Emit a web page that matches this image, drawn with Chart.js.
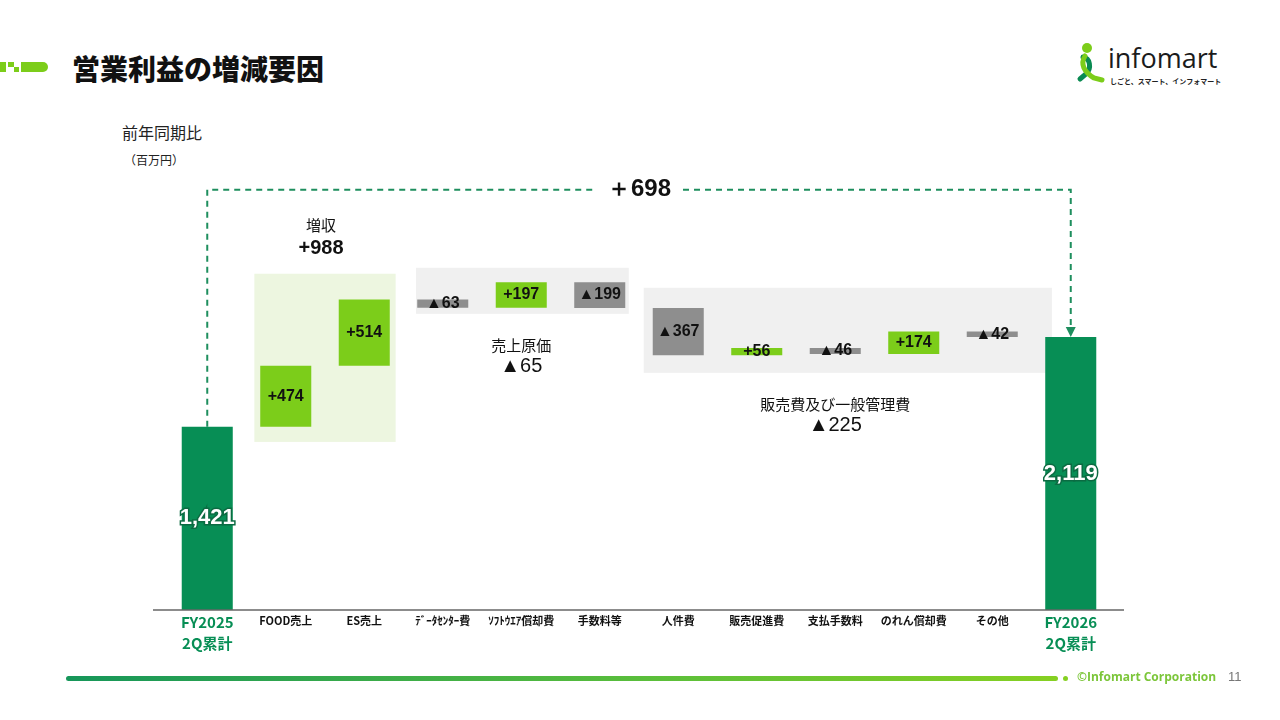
<!DOCTYPE html>
<html lang="ja">
<head>
    <meta charset="UTF-8">
    <title>営業利益の増減要因</title>
    <script src="https://cdn.jsdelivr.net/npm/chart.js"></script>
    <style>
        * { margin: 0; padding: 0; box-sizing: border-box; }
        body {
            width: 1280px;
            height: 720px;
            background: white;
            position: relative;
            overflow: hidden;
            font-family: "Noto Sans CJK JP", "Noto Sans", sans-serif;
        }
        #chart { position: absolute; left: 0; top: 0; }

        /* header */
        .deco span { position: absolute; background: #7ccd1a; }
        .title {
            position: absolute; left: 72px; top: 48px;
            font-size: 28px; font-weight: 900; color: #111;
        }
        .sub1 { position: absolute; left: 122px; top: 120px; font-size: 16px; color: #222; }
        .sub2 { position: absolute; left: 124px; top: 151px; font-size: 12px; color: #222; }

        /* logo */
        .logo { position: absolute; left: 1074px; top: 42px; }
        .logo .word {
            position: absolute; left: 34px; top: -3px;
            font-family: "Open Sans", "Noto Sans", sans-serif;
            font-size: 27px; color: #1b1b1b;
        }
        .logo .tag {
            position: absolute; left: 36px; top: 34px; white-space: nowrap;
            font-size: 7px; font-weight: bold; color: #222;
        }

        /* footer */
        .foot-line {
            position: absolute; left: 66px; top: 676px; width: 992px; height: 5px;
            border-radius: 3px;
            background: linear-gradient(to right, #16965a, #5cbf3a 60%, #86d022);
        }
        .foot-dot { position: absolute; left: 1063px; top: 676px; width: 5px; height: 5px; border-radius: 50%; background: #86d022; }
        .copy {
            position: absolute; left: 1077px; top: 668px;
            font-family: "Open Sans", sans-serif; font-weight: bold;
            font-size: 12px; color: #7cc63a;
        }
        .page { position: absolute; left: 1228px; top: 669px; font-size: 13px; color: #777; font-family: "Liberation Sans", sans-serif; }
    </style>
</head>
<body>

    <div class="deco">
        <span style="left:0;top:62px;width:6px;height:10px;"></span>
        <span style="left:8px;top:62px;width:6px;height:5px;"></span>
        <span style="left:14px;top:67px;width:5px;height:5px;"></span>
        <span style="left:21px;top:62px;width:27px;height:10px;border-radius:0 5px 5px 0;"></span>
    </div>
    <div class="title">営業利益の増減要因</div>
    <div class="sub1">前年同期比</div>
    <div class="sub2">（百万円）</div>

    <div class="logo">
        <svg width="32" height="42" viewBox="0 0 32 42">
            <circle cx="13" cy="6" r="5" fill="#7ccd1a"/>
            <path d="M9 15 C 16 16, 18 26, 12 32 L 6 37" stroke="#0a8a52" stroke-width="5" fill="none" stroke-linecap="round"/>
            <path d="M11 14 C 6 22, 10 30, 20 36 L 28 38" stroke="#7ccd1a" stroke-width="5" fill="none" stroke-linecap="round"/>
        </svg>
        <div class="word">infomart</div>
        <div class="tag">しごと、スマート、インフォマート</div>
    </div>

    <canvas id="chart" width="1280" height="720"></canvas>

    <div class="foot-line"></div>
    <div class="foot-dot"></div>
    <div class="copy">©Infomart Corporation</div>
    <div class="page">11</div>

<script>
    // data (百万円)
    var categories = [["FY2025", "2Q累計"], "FOOD売上", "ES売上", "ﾃﾞｰﾀｾﾝﾀｰ費", "ｿﾌﾄｳｴｱ償却費", "手数料等",
                      "人件費", "販売促進費", "支払手数料", "のれん償却費", "その他", ["FY2026", "2Q累計"]];
    var startTotal = 1421;
    var changes = [474, 514, -63, 197, -199, -367, 56, -46, 174, -42];
    var endTotal = 2119;

    // groups of factors
    var groupNames = ["増収", "売上原価", "販売費及び一般管理費"];
    var groupFirst = [1, 3, 6];
    var groupLast = [2, 5, 10];
    // shaded panels behind each group (category index / value units)
    var boxFrom = [0.6, 2.66, 5.56];
    var boxTo = [2.4, 5.37, 10.76];
    var boxLow = [1304, 2298, 1840];
    var boxHigh = [2609, 2655, 2500];
    var connectorLevel = 3260;

    var TOTAL = "#078e55", PLUS = "#7ccd1a", MINUS = "#8e8e8e";

    // waterfall ranges
    var ranges = [[0, startTotal]];
    var run = startTotal;
    changes.forEach(function (c) { ranges.push([run, run + c]); run += c; });
    ranges.push([0, endTotal]);

    var colors = ranges.map(function (r, i) {
        if (i === 0 || i === ranges.length - 1) return TOTAL;
        return changes[i - 1] > 0 ? PLUS : MINUS;
    });

    function fmtChange(v) { return (v > 0 ? "+" : "▲") + Math.abs(v); }

    var NUM = '"Liberation Sans", Arial, sans-serif';
    var JP = '"Noto Sans CJK JP", sans-serif';

    var decorations = {
        id: "decorations",
        beforeDatasetsDraw: function (chart) {
            var ctx = chart.ctx, x = chart.scales.x, y = chart.scales.y;
            ctx.save();
            for (var g = 0; g < groupNames.length; g++) {
                ctx.fillStyle = g === 0 ? "#edf6e0" : "#f0f0f0";
                var l = x.getPixelForValue(boxFrom[g]), r = x.getPixelForValue(boxTo[g]);
                var t = y.getPixelForValue(boxHigh[g]), b = y.getPixelForValue(boxLow[g]);
                ctx.fillRect(l, t, r - l, b - t);
            }
            ctx.restore();
        },
        afterDatasetsDraw: function (chart) {
            var ctx = chart.ctx, x = chart.scales.x, y = chart.scales.y;
            var area = chart.chartArea;
            var bars = chart.getDatasetMeta(0).data;
            ctx.save();

            // axis line
            ctx.strokeStyle = "#666";
            ctx.lineWidth = 1.5;
            ctx.beginPath();
            ctx.moveTo(area.left - 15, area.bottom);
            ctx.lineTo(area.right + 14, area.bottom);
            ctx.stroke();

            // bar labels
            ctx.textAlign = "center";
            ctx.textBaseline = "middle";
            bars.forEach(function (bar, i) {
                var cy = (bar.y + bar.base) / 2;
                if (i === 0 || i === bars.length - 1) {
                    var v = i === 0 ? startTotal : endTotal;
                    ctx.font = "bold 22px " + NUM;
                    ctx.lineWidth = 3;
                    ctx.strokeStyle = "#0b6b42";
                    ctx.strokeText(v.toLocaleString("en-US"), bar.x, cy);
                    ctx.fillStyle = "#fff";
                    ctx.fillText(v.toLocaleString("en-US"), bar.x, cy);
                } else {
                    ctx.font = "bold 16px " + NUM;
                    ctx.fillStyle = "#111";
                    ctx.fillText(fmtChange(changes[i - 1]), bar.x, cy);
                }
            });

            // group captions
            for (var g = 0; g < groupNames.length; g++) {
                var sum = 0;
                for (var k = groupFirst[g]; k <= groupLast[g]; k++) sum += changes[k - 1];
                var cx = (x.getPixelForValue(groupFirst[g]) + x.getPixelForValue(groupLast[g])) / 2;
                var t1, t2;
                if (sum > 0) {
                    var top = y.getPixelForValue(boxHigh[g]);
                    cx -= 4;
                    t1 = top - 48; t2 = top - 25;
                } else {
                    var bot = y.getPixelForValue(boxLow[g]);
                    t1 = bot + 31; t2 = bot + 53;
                }
                ctx.fillStyle = "#111";
                ctx.font = "15px " + JP;
                ctx.fillText(groupNames[g], cx, t1);
                ctx.font = (sum > 0 ? "bold " : "") + "20px " + NUM;
                ctx.fillText(fmtChange(sum), cx, t2);
            }

            // dashed connector between the two totals
            var first = bars[0], last = bars[bars.length - 1];
            var ly = y.getPixelForValue(connectorLevel);
            var label = "＋" + (endTotal - startTotal);
            ctx.font = "bold 24px " + NUM;
            var tw = ctx.measureText(label).width;
            var mid = (first.x + last.x) / 2;
            ctx.strokeStyle = "#1e8e5e";
            ctx.lineWidth = 2;
            ctx.setLineDash([6, 5]);
            ctx.beginPath();
            ctx.moveTo(first.x, first.y);
            ctx.lineTo(first.x, ly);
            ctx.lineTo(mid - tw / 2 - 12, ly);
            ctx.moveTo(mid + tw / 2 + 12, ly);
            ctx.lineTo(last.x, ly);
            ctx.lineTo(last.x, last.y - 8);
            ctx.stroke();
            ctx.setLineDash([]);
            ctx.fillStyle = "#1e8e5e";
            ctx.beginPath();
            ctx.moveTo(last.x, last.y);
            ctx.lineTo(last.x - 5, last.y - 10);
            ctx.lineTo(last.x + 5, last.y - 10);
            ctx.closePath();
            ctx.fill();
            ctx.fillStyle = "#111";
            ctx.fillText(label, mid, ly);

            ctx.restore();
        }
    };

    var ctx1 = document.getElementById("chart").getContext("2d");
    var chart = new Chart(ctx1, {
        type: "bar",
        data: {
            labels: categories,
            datasets: [{
                data: ranges,
                backgroundColor: colors,
                borderWidth: 0,
                barPercentage: 0.65,
                categoryPercentage: 1
            }]
        },
        options: {
            responsive: false,
            animation: false,
            layout: { padding: { left: 168, right: 170, top: 146, bottom: 40 } },
            plugins: {
                legend: { display: false },
                tooltip: { enabled: false }
            },
            scales: {
                x: {
                    grid: { display: false, drawTicks: false },
                    border: { display: false },
                    afterFit: function (scale) { scale.height = 70; },
                    ticks: {
                        padding: 2,
                        maxRotation: 0,
                        autoSkip: false,
                        color: function (c) {
                            return (c.index === 0 || c.index === categories.length - 1) ? TOTAL : "#111";
                        },
                        font: function (c) {
                            var big = c.index === 0 || c.index === categories.length - 1;
                            return big ? { size: 15, weight: "bold", family: JP, lineHeight: 1.4 }
                                       : { size: 11, weight: "bold", family: JP, lineHeight: 1.6 };
                        }
                    }
                },
                y: {
                    display: false,
                    min: 0,
                    max: 3600
                }
            }
        },
        plugins: [decorations]
    });
</script>

</body>
</html>
